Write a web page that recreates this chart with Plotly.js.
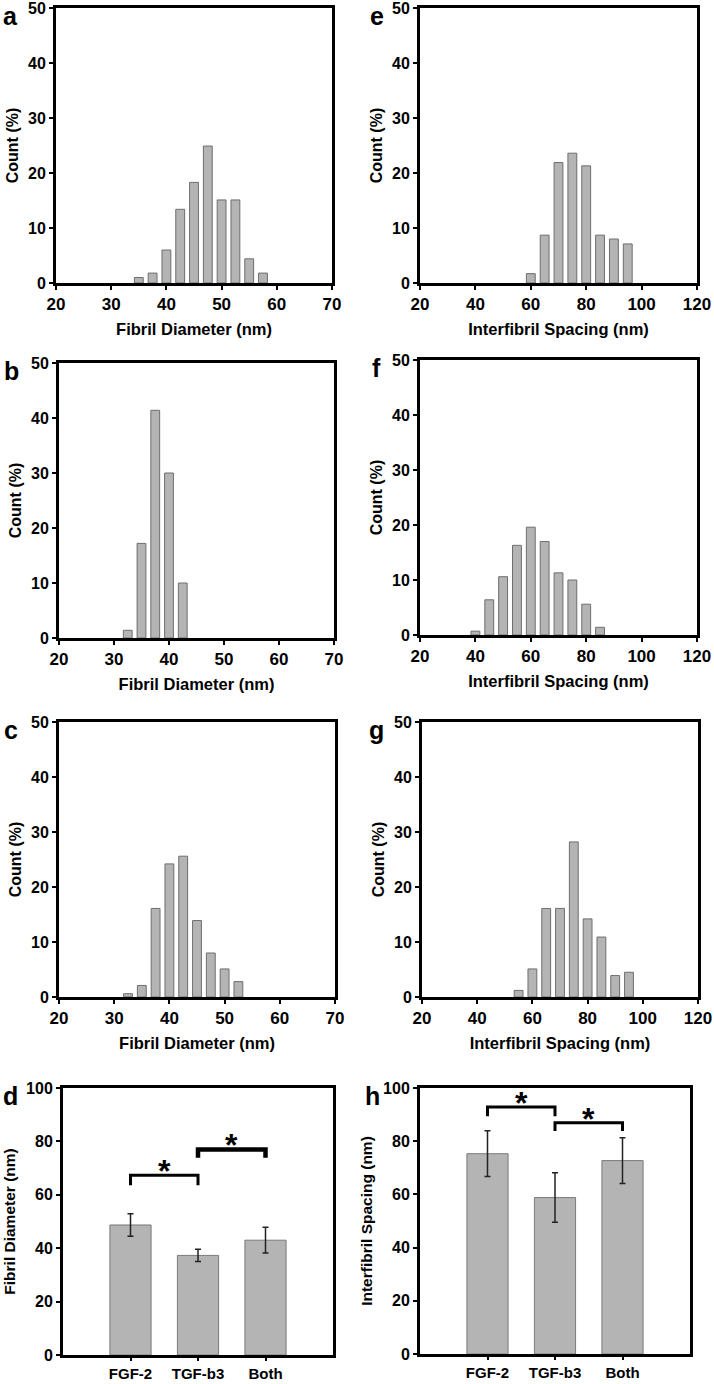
<!DOCTYPE html>
<html>
<head>
<meta charset="utf-8">
<script src="https://cdn.plot.ly/plotly-3.0.1.min.js"></script>
<style>html,body{margin:0;padding:0;background:#fff;}#chart{width:714px;height:1384px;}</style>
</head>
<body>
<div id="chart"></div>
<script>
// ---- Data ----
const fibA_x = [35, 37.5, 40, 42.5, 45, 47.5, 50, 52.5, 55, 57.5];
const fibA_y = [1.0, 1.8, 6.0, 13.4, 18.3, 24.9, 15.1, 15.1, 4.4, 1.8];
const fibB_x = [32.5, 35, 37.5, 40, 42.5];
const fibB_y = [1.4, 17.2, 41.4, 30.0, 10.0];
const fibC_x = [32.5, 35, 37.5, 40, 42.5, 45, 47.5, 50, 52.5];
const fibC_y = [0.6, 2.1, 16.1, 24.2, 25.6, 13.9, 8.0, 5.1, 2.8];

const spE_x = [60, 65, 70, 75, 80, 85, 90, 95];
const spE_y = [1.7, 8.7, 21.9, 23.6, 21.3, 8.7, 8.0, 7.1];
const spF_x = [40, 45, 50, 55, 60, 65, 70, 75, 80, 85];
const spF_y = [0.7, 6.4, 10.6, 16.3, 19.6, 17.0, 11.3, 10.0, 5.6, 1.4];
const spG_x = [55, 60, 65, 70, 75, 80, 85, 90, 95];
const spG_y = [1.2, 5.1, 16.1, 16.1, 28.2, 14.2, 10.9, 3.9, 4.5];

const groups = ['FGF-2', 'TGF-b3', 'Both'];
const diamMean = [48.7, 37.3, 43.0];
const diamErr = [4.2, 2.3, 4.8];
const spacMean = [75.3, 58.8, 72.7];
const spacErr = [8.6, 9.3, 8.6];

// significance brackets: [from group, to group, bar height, tick bottom, star centre]
const diamBrackets = [['FGF-2', 'TGF-b3', 67.3, 63.6, 71.0], ['TGF-b3', 'Both', 77.0, 73.9, 80.8]];
const spacBrackets = [['FGF-2', 'TGF-b3', 92.9, 89.4, 96.5], ['TGF-b3', 'Both', 86.9, 83.8, 90.5]];

const fibTitle = 'Fibril Diameter (nm)';
const spTitle = 'Interfibril Spacing (nm)';
const countTitle = 'Count (%)';

// ---- Layout geometry (pixels) ----
const W = 714, H = 1384;
const boxes = {
  a: [56, 8, 332, 283], e: [420, 8, 697, 283],
  b: [59, 363, 334, 638], f: [420, 360, 697, 635],
  c: [59, 722, 335, 997], g: [422, 722, 698, 997],
  d: [63, 1088, 333, 1355], h: [420, 1088, 690, 1354]
};
const letterX = {a: 1, b: 2, c: 2, d: 1, e: 368, f: 370, g: 367, h: 363};
const FONT = 'Liberation Sans, Arial, sans-serif';
const barFill = '#b4b4b4', barLine = '#6e6e6e';
const STAR = 32;

const traces = [];
const layout = {
  width: W, height: H, margin: {l: 0, r: 0, t: 0, b: 0},
  paper_bgcolor: '#fff', plot_bgcolor: '#fff', showlegend: false,
  font: {family: FONT, color: '#000'},
  annotations: [], bargap: 0
};

function axisBase() {
  return {
    showline: true, mirror: true, linecolor: '#000', linewidth: 3,
    showgrid: false, zeroline: false, ticks: 'outside', ticklen: 4, tickwidth: 2, tickcolor: '#000',
    ticklabeloverflow: 'allow',
    tickfont: {family: FONT, size: 16, weight: 'bold', color: '#000'}, fixedrange: true
  };
}

function setAxes(idx, key, xcfg, ycfg) {
  const b = boxes[key];
  const xs = idx === 1 ? 'xaxis' : 'xaxis' + idx;
  const ys = idx === 1 ? 'yaxis' : 'yaxis' + idx;
  layout[xs] = Object.assign(axisBase(), {domain: [b[0] / W, b[2] / W], anchor: 'y' + (idx === 1 ? '' : idx)}, xcfg);
  layout[ys] = Object.assign(axisBase(), {domain: [1 - b[3] / H, 1 - b[1] / H], anchor: 'x' + (idx === 1 ? '' : idx)}, ycfg);
  layout.annotations.push({
    xref: 'paper', yref: 'paper', x: letterX[key] / W, y: 1 - Math.max(b[1] - 8, 0) / H,
    xanchor: 'left', yanchor: 'top', showarrow: false, text: '<b>' + key + '</b>',
    font: {family: FONT, size: 25, color: '#000'}
  });
}

function hist(idx, key, xs, ys, width, xrange, dtick, xtitle) {
  traces.push({
    type: 'bar', x: xs, y: ys, width: width,
    xaxis: 'x' + (idx === 1 ? '' : idx), yaxis: 'y' + (idx === 1 ? '' : idx),
    marker: {color: barFill, line: {color: barLine, width: 1}}, hoverinfo: 'skip'
  });
  setAxes(idx, key,
    {range: xrange, dtick: dtick, tick0: xrange[0], tickfont: {family: FONT, size: 17, weight: 'bold', color: '#000'},
     title: {text: '<b>' + xtitle + '</b>', font: {family: FONT, size: 16.5}, standoff: 11}},
    {range: [0, 50], dtick: 10, title: {text: '<b>' + countTitle + '</b>', font: {family: FONT, size: 16}, standoff: 6}});
}

hist(1, 'a', fibA_x, fibA_y, 1.6, [20, 70], 10, fibTitle);
hist(2, 'e', spE_x, spE_y, 3.2, [20, 120], 20, spTitle);
hist(3, 'b', fibB_x, fibB_y, 1.6, [20, 70], 10, fibTitle);
hist(4, 'f', spF_x, spF_y, 3.2, [20, 120], 20, spTitle);
hist(5, 'c', fibC_x, fibC_y, 1.6, [20, 70], 10, fibTitle);
hist(6, 'g', spG_x, spG_y, 3.2, [20, 120], 20, spTitle);

function summary(idx, key, means, errs, brackets, ytitle) {
  const xa = 'x' + idx, ya = 'y' + idx;
  traces.push({
    type: 'bar', x: groups, y: means, width: 0.61, xaxis: xa, yaxis: ya,
    marker: {color: barFill, line: {color: '#7a7a7a', width: 1}},
    error_y: {type: 'data', array: errs, visible: true, color: '#222', thickness: 1.5, width: 3},
    hoverinfo: 'skip'
  });
  brackets.forEach((br, i) => {
    traces.push({
      type: 'scatter', mode: 'lines', x: [br[0], br[0], br[1], br[1]], y: [br[3], br[2], br[2], br[3]],
      xaxis: xa, yaxis: ya, line: {color: '#000', width: (idx === 7 && i === 1) ? 4.5 : 3}, hoverinfo: 'skip'
    });
    layout.annotations.push({
      xref: xa, yref: ya, x: groups.indexOf(br[0]) + 0.5, y: br[4], text: '<b>*</b>',
      showarrow: false, yanchor: 'bottom', yshift: -Math.round(STAR * 0.82), font: {family: FONT, size: STAR, color: '#000'}
    });
  });
  setAxes(idx, key,
    {type: 'category', range: [-1, 3], ticks: 'outside', ticklen: 3,
     tickfont: {family: FONT, size: 15, weight: 'bold', color: '#000'}},
    {range: [0, 100], dtick: 20, title: {text: '<b>' + ytitle + '</b>', font: {family: FONT, size: 15.5}, standoff: 7}});
}

summary(7, 'd', diamMean, diamErr, diamBrackets, fibTitle);
summary(8, 'h', spacMean, spacErr, spacBrackets, spTitle);

Plotly.newPlot('chart', traces, layout, {staticPlot: true, displayModeBar: false});
</script>
</body>
</html>
